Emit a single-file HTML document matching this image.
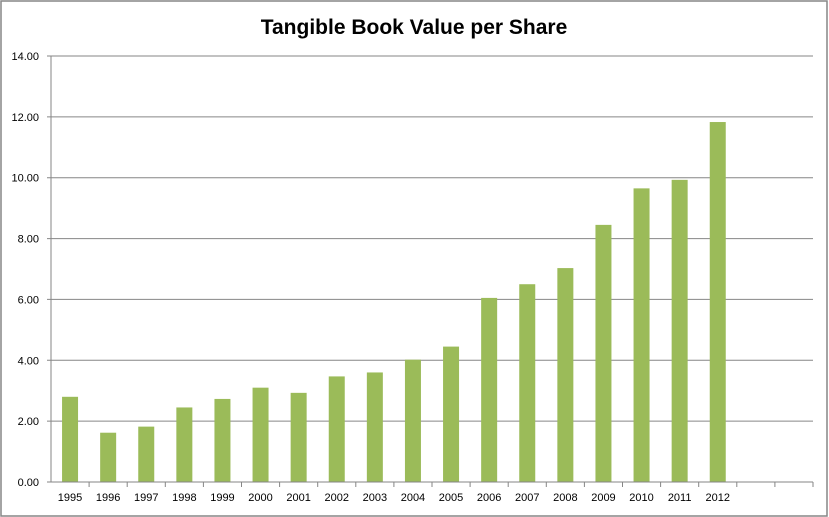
<!DOCTYPE html>
<html><head><meta charset="utf-8"><style>
body{margin:0;background:#fff;}
svg{display:block;font-family:"Liberation Sans",Calibri,sans-serif;}
</style></head><body>
<svg id="chart" width="829" height="517">
<rect x="1" y="1" width="826" height="515" fill="#fff" stroke="#868686" stroke-width="1.5"/>
<text x="414" y="34" text-anchor="middle" font-size="21" font-weight="bold" fill="#000">Tangible Book Value per Share</text>
<g id="grid"></g><g id="bars"></g><g id="axes"></g>
</svg>
<script>
const categories=["1995","1996","1997","1998","1999","2000","2001","2002","2003","2004","2005","2006","2007","2008","2009","2010","2011","2012","",""];
const values=[2.80,1.62,1.82,2.45,2.73,3.10,2.93,3.47,3.60,4.02,4.45,6.05,6.50,7.03,8.45,9.65,9.93,11.83,null,null];
const yTicks=[0,2,4,6,8,10,12,14];
const yTickLabels=["0.00","2.00","4.00","6.00","8.00","10.00","12.00","14.00"];
const L=51,R=813,T=56,B=482,yMax=14;
const ns="http://www.w3.org/2000/svg";
const y=v=>B-(v/yMax)*(B-T);
const band=(R-L)/categories.length;
const xc=i=>L+band*(i+0.5);
function mk(tag,attrs,parent){const e=document.createElementNS(ns,tag);for(const k in attrs)e.setAttribute(k,attrs[k]);document.getElementById(parent).appendChild(e);return e;}
yTicks.forEach((t,i)=>{
  const g=mk('line',{x1:L-4,x2:R,y1:y(t),y2:y(t),stroke:'#868686','stroke-width':1},'grid');
  
  
  const tx=mk('text',{x:L-12,y:y(t)+4,'text-anchor':'end','font-size':11,fill:'#000'},'axes');
  tx.textContent=yTickLabels[i];
  
  
});
values.forEach((v,i)=>{
  if(v==null)return;
  const w=16;
  const r=mk('rect',{x:xc(i)-w/2,y:y(v),width:w,height:B-y(v),fill:'#9bbb59'},'bars');
  
  
});
categories.forEach((c,i)=>{
  const tk=mk('line',{x1:L+band*(i+1),x2:L+band*(i+1),y1:B,y2:B+5,stroke:'#868686'},'axes');
  
  
  if(!c)return;
  const tx=mk('text',{x:xc(i),y:B+19,'text-anchor':'middle','font-size':11,fill:'#000'},'axes');
  tx.textContent=c;
  
  
});
const ya=mk('line',{x1:L,x2:L,y1:T,y2:B,stroke:'#868686'},'axes');


const xa=mk('line',{x1:L,x2:R,y1:B,y2:B,stroke:'#868686'},'axes');


</script>
</body></html>
